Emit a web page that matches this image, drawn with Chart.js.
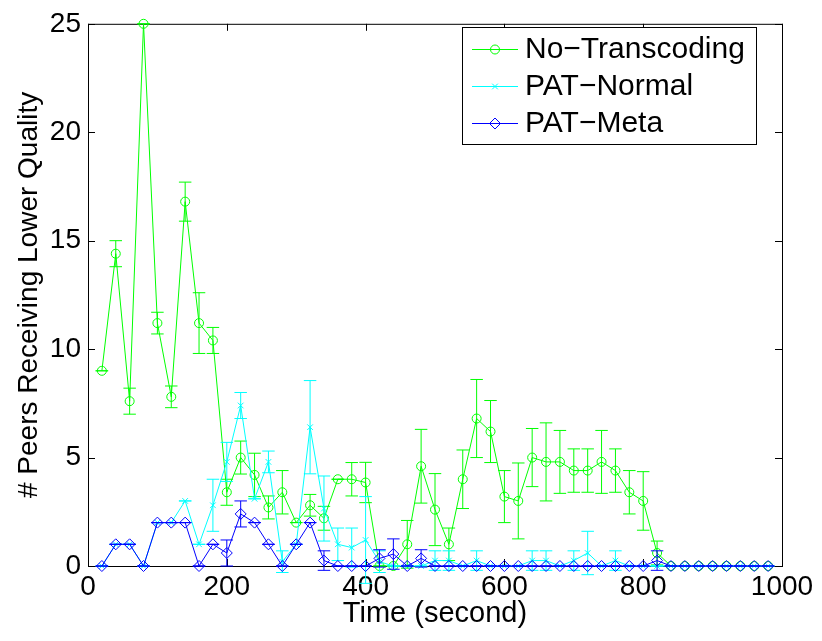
<!DOCTYPE html>
<html>
<head>
<meta charset="utf-8">
<script src="https://cdn.jsdelivr.net/npm/chart.js@4.5.0/dist/chart.umd.min.js"></script>
<style>
  html, body { margin: 0; padding: 0; background: #fff; }
  #wrap { width: 822px; height: 641px; }
</style>
</head>
<body>
<div id="wrap"><canvas id="peersChart" width="822" height="641"></canvas></div>
<script>
// time axis (seconds)
const times = [20,40,60,80,100,120,140,160,180,200,220,240,260,280,300,320,340,360,380,400,
  420,440,460,480,500,520,540,560,580,600,620,640,660,680,700,720,740,760,780,800,
  820,840,860,880,900,920,940,960,980]

const noTranscoding = [9.0,14.4,7.6,25,11.2,7.8,16.8,11.2,10.4,3.4,5.0,4.2,2.7,3.4,2.0,2.8,2.2,4.0,4.0,3.85,
  0,0,1.0,4.6,2.6,1.0,4.0,6.8,6.2,3.2,3.0,5.0,4.8,4.8,4.4,4.4,4.8,4.4,3.4,3.0,
  0.6,0,0,0,0,0,0,0,0]
const noTranscodingErr = [0,0.6,0.6,0,0.5,0.5,0.9,1.4,0.6,0.6,0.76,1.0,0.53,1.0,0,0.5,0.55,0,0.77,0.93,
  0,0,1.1,1.7,1.66,0.75,1.35,1.8,1.43,1.2,1.75,1.34,1.8,1.45,1.0,1.0,1.45,1.0,1.0,1.35,
  0.55,0,0,0,0,0,0,0,0]

const patNormal = [0,1,1,0,2,2,3.0,1.0,2.8,4.8,7.4,3.1,4.8,0.2,1.0,6.4,2.65,1.0,0.85,1.2,
  0.2,0,0,0,0.25,0.25,0,0.25,0,0,0,0.25,0.25,0,0.25,0.6,0,0.25,0,0,
  0,0,0,0,0,0,0,0,0]
const patNormalErr = [0,0,0,0,0,0,0,0,1.2,0.9,0.6,0,0.5,0.5,0,2.15,1.5,0.75,0.9,2.0,
  0.5,0,0,0,0.45,0.45,0,0.45,0,0,0,0.45,0.45,0,0.45,1.0,0,0.45,0,0,
  0,0,0,0,0,0,0,0,0]

const patMeta = [0,1,1,0,2,2,2,0,1,0.6,2.4,2.0,1.0,0,1.0,2.0,0.25,0,0,0,
  0.35,0.55,0,0.35,0,0,0,0,0,0,0,0,0,0,0,0,0,0,0,0,
  0.25,0,0,0,0,0,0,0,0]
const patMetaErr = [0,0,0,0,0,0,0,0,0,0.6,0.6,0,0,0,0,0,0.45,0,0,0,
  0.4,0.7,0,0.4,0,0,0,0,0,0,0,0,0,0,0,0,0,0,0,0,
  0.45,0,0,0,0,0,0,0,0]

const xTicks = [0,200,400,600,800,1000]
const yTicks = [0,5,10,15,20,25]

const FONT = '"Liberation Sans", Arial, Helvetica, sans-serif'

function pts(vals) {
  return times.map((t, i) => ({x: t, y: vals[i]}))
}

const errors = [noTranscodingErr, patNormalErr, patMetaErr]

// matlab style box with inward ticks on all sides
const axesBox = {
  id: 'axesBox',
  beforeDatasetsDraw(chart) {
    const {ctx, chartArea: a, scales} = chart
    ctx.save()
    ctx.strokeStyle = '#000'
    ctx.lineWidth = 1
    ctx.strokeRect(a.left + 0.5, a.top + 0.5, a.right - a.left, a.bottom - a.top)
    ctx.beginPath()
    xTicks.forEach(v => {
      const x = Math.round(scales.x.getPixelForValue(v)) + 0.5
      ctx.moveTo(x, a.bottom); ctx.lineTo(x, a.bottom - 7)
      ctx.moveTo(x, a.top); ctx.lineTo(x, a.top + 7)
    })
    yTicks.forEach(v => {
      const y = Math.round(scales.y.getPixelForValue(v)) + 0.5
      ctx.moveTo(a.left, y); ctx.lineTo(a.left + 7, y)
      ctx.moveTo(a.right, y); ctx.lineTo(a.right - 7, y)
    })
    ctx.stroke()
    ctx.restore()
  }
}

const errorBars = {
  id: 'errorBars',
  afterDatasetDraw(chart, args) {
    const i = args.index
    const err = errors[i]
    const ds = chart.data.datasets[i]
    const {ctx, scales} = chart
    ctx.save()
    ctx.strokeStyle = ds.borderColor
    ctx.lineWidth = 1
    ctx.beginPath()
    ds.data.forEach((p, j) => {
      const x = scales.x.getPixelForValue(p.x)
      const x0 = scales.x.getPixelForValue(p.x - 9)
      const x1 = scales.x.getPixelForValue(p.x + 9)
      const yt = scales.y.getPixelForValue(p.y + err[j])
      const yb = scales.y.getPixelForValue(p.y - err[j])
      ctx.moveTo(x, yt); ctx.lineTo(x, yb)
      ctx.moveTo(x0, yt); ctx.lineTo(x1, yt)
      ctx.moveTo(x0, yb); ctx.lineTo(x1, yb)
    })
    ctx.stroke()
    ctx.restore()
  }
}

const boxLegend = {
  id: 'boxLegend',
  afterDraw(chart) {
    const ctx = chart.ctx
    const left = 462, top = 27, w = 294, h = 117
    ctx.save()
    ctx.fillStyle = '#fff'
    ctx.fillRect(left, top, w, h)
    ctx.strokeStyle = '#000'
    ctx.lineWidth = 1
    ctx.strokeRect(left + 0.5, top + 0.5, w, h)
    const rows = [49, 86, 123]
    chart.data.datasets.forEach((ds, k) => {
      const y = rows[k]
      ctx.strokeStyle = ds.borderColor
      ctx.beginPath()
      ctx.moveTo(472, y + 0.5); ctx.lineTo(518, y + 0.5)
      ctx.stroke()
      ctx.fillStyle = 'rgba(0,0,0,0)'
      Chart.helpers.drawPoint(ctx, {pointStyle: ds.pointStyle, radius: ds.pointRadius, rotation: 0, borderWidth: 1}, 495, y + 0.5)
      ctx.fillStyle = '#000'
      ctx.font = '30px ' + FONT
      ctx.textBaseline = 'middle'
      ctx.fillText(ds.label, 525, y + 1)
    })
    ctx.restore()
  }
}

const ctx = document.getElementById('peersChart')
new Chart(ctx, {
  type: 'line',
  data: {
    datasets: [
      {label: 'No\u2212Transcoding', data: pts(noTranscoding), borderColor: '#00ff00', pointStyle: 'circle', pointRadius: 4.5, order: 3},
      {label: 'PAT\u2212Normal', data: pts(patNormal), borderColor: '#00ffff', pointStyle: 'crossRot', pointRadius: 4, order: 2},
      {label: 'PAT\u2212Meta', data: pts(patMeta), borderColor: '#0000ff', pointStyle: 'rectRot', pointRadius: 5.5, order: 1}
    ].map(d => Object.assign(d, {
      borderWidth: 1, pointBorderWidth: 1, pointBorderColor: d.borderColor,
      pointBackgroundColor: 'rgba(0,0,0,0)', backgroundColor: 'rgba(0,0,0,0)',
      tension: 0, clip: false, pointHoverRadius: d.pointRadius
    }))
  },
  options: {
    responsive: false,
    animation: false,
    devicePixelRatio: 1,
    layout: { padding: { top: 17, right: 40, left: 0, bottom: 0 } },
    plugins: { legend: { display: false }, tooltip: { enabled: false } },
    scales: {
      x: {
        type: 'linear', min: 0, max: 1000,
        afterBuildTicks: s => { s.ticks = xTicks.map(v => ({value: v})) },
        afterFit: s => { s.height = 75 },
        grid: { display: false, drawTicks: false },
        border: { display: false },
        ticks: { color: '#000', font: { family: FONT, size: 28 }, padding: 4, maxRotation: 0, callback: v => String(v) },
        title: { display: true, text: 'Time (second)', color: '#000', font: { family: FONT, size: 29 }, padding: { top: 0, bottom: 10 } }
      },
      y: {
        min: 0, max: 25,
        afterBuildTicks: s => { s.ticks = yTicks.map(v => ({value: v})) },
        afterFit: s => { s.width = 88 },
        grid: { display: false, drawTicks: false },
        border: { display: false },
        ticks: { color: '#000', font: { family: FONT, size: 28 }, padding: 7, callback: v => String(v) },
        title: { display: true, text: '# Peers Receiving Lower Quality', color: '#000', font: { family: FONT, size: 28 }, padding: { top: 12, bottom: 0 } }
      }
    }
  },
  plugins: [axesBox, errorBars, boxLegend]
})
</script>
</body>
</html>
